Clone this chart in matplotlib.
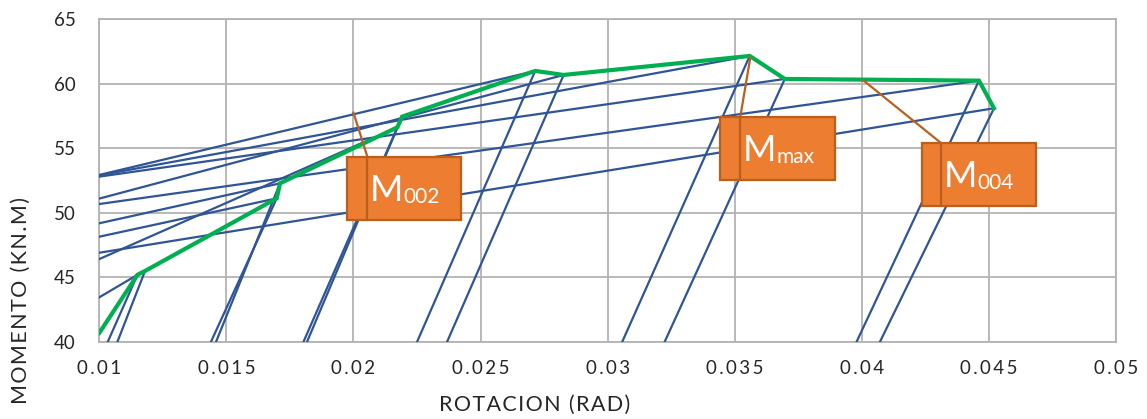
import matplotlib
matplotlib.use("Agg")
import matplotlib.pyplot as plt
from matplotlib.patches import Rectangle

# Peak of every loading cycle: rotation (rad) and moment (kN.m)
peak_rot = [0.0115, 0.0118, 0.01698, 0.01711, 0.02173, 0.02191,
            0.02715, 0.02827, 0.03559, 0.03697, 0.04461, 0.04520]
peak_mom = [45.2, 45.5, 51.12, 52.28, 56.62, 57.44,
            60.98, 60.67, 62.14, 60.36, 60.23, 58.09]

# Start point of each reloading branch
reload_rot = [0.0100, 0.0115, 0.0100, 0.0100, 0.0100, 0.02173,
              0.0100, 0.0100, 0.0100, 0.0100, 0.0100, 0.0100]
reload_mom = [43.46, 45.2, 48.15, 49.19, 46.42, 56.62,
              52.93, 51.1, 52.9, 52.8, 50.68, 46.91]

# End point of each unloading branch
unload_rot = [0.01033, 0.01071, 0.01439, 0.01459, 0.01803, 0.01817,
              0.02250, 0.02368, 0.03057, 0.03224, 0.03979, 0.04071]
unload_mom = [40.0] * 12

# Backbone (envelope) curve: first point, then the cycle peaks
env_start_rot = 0.0100
env_start_mom = 40.7

# Callouts
call_main = ["M", "M", "M"]
call_sub = ["002", "max", "004"]
call_target_rot = [0.0200, 0.03562, 0.04004]
call_target_mom = [57.75, 62.10, 60.28]
call_box_x = [(0.01976, 0.02425), (0.03443, 0.03896), (0.04238, 0.04687)]
call_box_y = [(49.44, 54.32), (52.54, 57.44), (50.53, 55.38)]
call_bar_x = [0.02055, 0.03522, 0.04313]

x_ticks = [0.01, 0.015, 0.02, 0.025, 0.03, 0.035, 0.04, 0.045, 0.05]
x_tick_labels = ["0.01", "0.015", "0.02", "0.025", "0.03", "0.035", "0.04", "0.045", "0.05"]
y_ticks = [40, 45, 50, 55, 60, 65]
x_title = "ROTACION (RAD)"
y_title = "MOMENTO (KN.M)"

BLUE = "#2F5597"
GREEN = "#00B050"
ORANGE = "#ED7D31"
BROWN = "#B9601F"
GRID = "#B3B3B3"
TEXT = "#262626"
FONT = ["Lato", "DejaVu Sans"]

plt.rcParams["font.family"] = FONT

fig = plt.figure(figsize=(11.47, 4.19), dpi=100)
ax = fig.add_axes([99.3 / 1147, 1 - 342 / 419, (1116 - 99.3) / 1147, (342 - 19) / 419])

# hysteresis loops
for i in range(len(peak_rot)):
    xs = [reload_rot[i], peak_rot[i], unload_rot[i]]
    ys = [reload_mom[i], peak_mom[i], unload_mom[i]]
    ax.plot(xs, ys, color=BLUE, lw=1.6, solid_joinstyle="round", zorder=3)

# envelope
env_rot = [env_start_rot] + peak_rot
env_mom = [env_start_mom] + peak_mom
ax.plot(env_rot, env_mom, color=GREEN, lw=3.0, solid_joinstyle="miter", zorder=4)

ax.set_xlim(0.01, 0.05)
ax.set_ylim(40, 65)
ax.set_xticks(x_ticks)
ax.set_xticklabels(["\u2009".join(t) for t in x_tick_labels])
ax.set_yticks(y_ticks)
ax.grid(True, color=GRID, lw=1.3)
ax.set_axisbelow(True)
for s in ax.spines.values():
    s.set_color(GRID)
    s.set_linewidth(1.3)
ax.tick_params(length=0, labelsize=13.5, colors=TEXT, pad=0)
ax.tick_params(axis="y", pad=17)
ax.tick_params(axis="x", pad=13)

fig.text(535 / 1147, 1 - 405 / 419, "\u200a".join(x_title), ha="center", va="center",
         fontsize=15.5, color=TEXT)
fig.text(21 / 1147, 1 - 300 / 419, "\u200a".join(y_title), ha="center", va="center",
         rotation=90, fontsize=15.5, color=TEXT)

# callout boxes with leader lines
for i in range(len(call_main)):
    x0, x1 = call_box_x[i]
    y0, y1 = call_box_y[i]
    ax.add_patch(Rectangle((x0, y0), x1 - x0, y1 - y0, facecolor=ORANGE,
                           edgecolor=BROWN, lw=1.6, zorder=6, clip_on=False))
    bx = call_bar_x[i]
    ax.plot([bx, bx], [y0, y1], color=BROWN, lw=1.6, zorder=7, clip_on=False)
    ax.plot([bx, call_target_rot[i]], [y1, call_target_mom[i]], color=BROWN,
            lw=1.6, zorder=5, clip_on=False)
    ty = (y0 + y1) / 2 - 0.2 * (y1 - y0)
    t = ax.text(bx + 0.0001, ty, call_main[i], fontsize=26, color="white",
                ha="left", va="baseline", zorder=8)
    ax.annotate(call_sub[i], xy=(1, 0), xycoords=t, xytext=(0.3, 0),
                textcoords="offset points", fontsize=15, color="white",
                ha="left", va="bottom", zorder=8)

fig.savefig("out.png", dpi=100)
